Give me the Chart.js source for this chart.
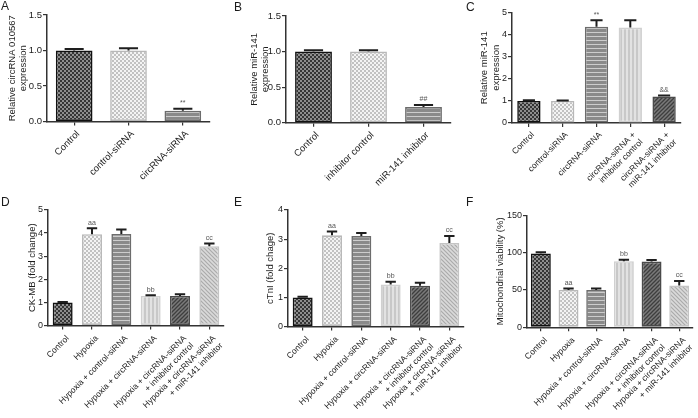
<!DOCTYPE html>
<html>
<head>
<meta charset="utf-8">
<script src="https://cdn.jsdelivr.net/npm/chart.js@4.4.1/dist/chart.umd.min.js"></script>
<style>
  html, body { margin: 0; padding: 0; background: #fff; }
  #fig { position: relative; width: 698px; height: 418px; overflow: hidden; font-family: "Liberation Sans", Arial, sans-serif; }
  #fig canvas { position: absolute; }
  .tag { position: absolute; font-size: 12px; line-height: 1; color: #1a1a1a; }
</style>
</head>
<body>
<div id="fig">
  <canvas id="chartA" width="230" height="200" style="left:0px;top:0px"></canvas>
  <canvas id="chartB" width="230" height="200" style="left:230px;top:0px"></canvas>
  <canvas id="chartC" width="238" height="200" style="left:460px;top:0px"></canvas>
  <canvas id="chartD" width="240" height="218" style="left:0px;top:200px"></canvas>
  <canvas id="chartE" width="245" height="218" style="left:230px;top:200px"></canvas>
  <canvas id="chartF" width="238" height="218" style="left:460px;top:200px"></canvas>
  <div class="tag" style="left:1px;top:0px">A</div>
  <div class="tag" style="left:234px;top:1px">B</div>
  <div class="tag" style="left:466px;top:1px">C</div>
  <div class="tag" style="left:1px;top:196px">D</div>
  <div class="tag" style="left:234px;top:196px">E</div>
  <div class="tag" style="left:466px;top:196px">F</div>
</div>
<script>
// ---- data ----
const labelsA = ['Control', 'control-siRNA', 'circRNA-siRNA'];
const valuesA = [1.0, 1.0, 0.15];
const errorsA = [0.02, 0.03, 0.03];
const marksA = ['', '', '**'];

const labelsB = ['Control', 'inhibitor control', 'miR-141 inhibitor'];
const valuesB = [1.0, 1.0, 0.22];
const errorsB = [0.02, 0.02, 0.03];
const marksB = ['', '', '##'];

const labelsC = ['Control', 'control-siRNA', 'circRNA-siRNA',
    ['circRNA-siRNA +', 'inhibitor control'], ['circRNA-siRNA +', 'miR-141 inhibitor']];
const valuesC = [1.0, 1.0, 4.35, 4.32, 1.2];
const errorsC = [0.03, 0.02, 0.3, 0.33, 0.05];
const marksC = ['', '', '**', '', '&&'];

const hypoxiaLabels = ['Control', 'Hypoxia', 'Hypoxia + control-siRNA', 'Hypoxia + circRNA-siRNA',
    ['Hypoxia + circRNA-siRNA', '+ inhibitor control'], ['Hypoxia + circRNA-siRNA', '+ miR-141 inhibitor']];

const valuesD = [1.0, 3.95, 3.96, 1.28, 1.28, 3.43];
const errorsD = [0.02, 0.26, 0.2, 0.03, 0.07, 0.12];
const marksD = ['', 'aa', '', 'bb', '', 'cc'];

const valuesE = [1.0, 3.13, 3.11, 1.44, 1.4, 2.87];
const errorsE = [0.02, 0.13, 0.1, 0.1, 0.1, 0.24];
const marksE = ['', 'aa', '', 'bb', '', 'cc'];

const valuesF = [99, 50, 50, 88.5, 88, 56];
const errorsF = [1.5, 2, 2, 2, 2, 6];
const marksF = ['', 'aa', '', 'bb', '', 'cc'];

// ---- styles ----
const FONT = '"Liberation Sans", Arial, sans-serif';
const TEXT = '#1c1c1c';
const AXIS = '#333';

function tile(draw) {
    const c = document.createElement('canvas');
    c.width = 4; c.height = 4;
    const g = c.getContext('2d');
    draw(g);
    return g.createPattern(c, 'repeat');
}

const patterns = {
    check: tile(g => {
        g.fillStyle = '#8e8e8e'; g.fillRect(0, 0, 4, 4);
        g.fillStyle = '#353535'; g.fillRect(0, 0, 2, 2); g.fillRect(2, 2, 2, 2);
    }),
    lightcheck: tile(g => {
        g.fillStyle = '#f4f4f4'; g.fillRect(0, 0, 4, 4);
        g.fillStyle = '#c2c2c2'; g.fillRect(0, 0, 2, 2); g.fillRect(2, 2, 2, 2);
    }),
    hstripe: tile(g => {
        g.fillStyle = '#8a8a8a'; g.fillRect(0, 0, 4, 4);
        g.fillStyle = '#cdcdcd'; g.fillRect(0, 0, 4, 1);
    }),
    vstripe: tile(g => {
        g.fillStyle = '#e2e2e2'; g.fillRect(0, 0, 4, 4);
        g.fillStyle = '#c8c8c8'; g.fillRect(0, 0, 2, 4);
    }),
    diagDark: tile(g => {
        g.fillStyle = '#7a7a7a'; g.fillRect(0, 0, 4, 4);
        g.strokeStyle = '#3e3e3e'; g.lineWidth = 1.3;
        g.beginPath();
        g.moveTo(0, 4); g.lineTo(4, 0);
        g.moveTo(-1, 1); g.lineTo(1, -1);
        g.moveTo(3, 5); g.lineTo(5, 3);
        g.stroke();
    }),
    diagLight: tile(g => {
        g.fillStyle = '#dadada'; g.fillRect(0, 0, 4, 4);
        g.strokeStyle = '#ababab'; g.lineWidth = 1.2;
        g.beginPath();
        g.moveTo(0, 0); g.lineTo(4, 4);
        g.moveTo(-1, 3); g.lineTo(1, 5);
        g.moveTo(3, -1); g.lineTo(5, 1);
        g.stroke();
    })
};

const borders = {
    check: '#111',
    lightcheck: '#b8b8b8',
    hstripe: '#6c6c6c',
    vstripe: '#d0d0d0',
    diagDark: '#4a4a4a',
    diagLight: '#c4c4c4'
};

const fills3 = ['check', 'lightcheck', 'hstripe'];
const fills5 = ['check', 'lightcheck', 'hstripe', 'vstripe', 'diagDark'];
const fills6 = ['check', 'lightcheck', 'hstripe', 'vstripe', 'diagDark', 'diagLight'];

// error bars (upper only) and significance marks
const errorBars = {
    id: 'errorBars',
    afterDatasetsDraw(chart) {
        const ctx = chart.ctx;
        const ds = chart.data.datasets[0];
        const y = chart.scales.y;
        ctx.save();
        chart.getDatasetMeta(0).data.forEach((bar, i) => {
            const top = y.getPixelForValue(ds.data[i] + ds.errors[i]);
            const half = bar.width * 0.26;
            ctx.strokeStyle = '#1e1e1e';
            ctx.lineWidth = 2;
            ctx.beginPath();
            ctx.moveTo(bar.x, bar.y);
            ctx.lineTo(bar.x, top);
            ctx.moveTo(bar.x - half, top);
            ctx.lineTo(bar.x + half, top);
            ctx.stroke();
            if (ds.marks[i]) {
                ctx.fillStyle = '#555';
                ctx.font = '7px ' + FONT;
                ctx.textAlign = 'center';
                ctx.textBaseline = 'bottom';
                ctx.fillText(ds.marks[i], bar.x, top - 2);
            }
        });
        ctx.restore();
    }
};

function drawPanel(id, cfg) {
    return new Chart(document.getElementById(id), {
        type: 'bar',
        data: {
            labels: cfg.labels,
            datasets: [{
                data: cfg.values,
                errors: cfg.errors,
                marks: cfg.marks,
                backgroundColor: cfg.fills.map(f => patterns[f]),
                borderColor: cfg.fills.map(f => borders[f]),
                borderWidth: 1.6,
                borderSkipped: false,
                categoryPercentage: 1,
                barPercentage: cfg.barPct
            }]
        },
        options: {
            responsive: false,
            animation: false,
            events: [],
            layout: { padding: { top: cfg.padTop, right: cfg.padRight, left: 0, bottom: 0 } },
            plugins: { legend: { display: false }, tooltip: { enabled: false } },
            scales: {
                x: {
                    grid: { drawOnChartArea: false, offset: false, color: AXIS, lineWidth: 1.2, tickLength: 4 },
                    border: { color: AXIS, width: 1.5 },
                    ticks: {
                        autoSkip: false, minRotation: 45, maxRotation: 45,
                        padding: cfg.xPad, labelOffset: cfg.xShift,
                        color: TEXT, font: { family: FONT, size: cfg.xFont }
                    },
                    afterFit: s => { s.height = cfg.xHeight; }
                },
                y: {
                    min: 0,
                    max: cfg.yMax,
                    ticks: {
                        stepSize: cfg.yStep, padding: 1, color: TEXT,
                        font: { family: FONT, size: cfg.yFont },
                        callback: v => v.toFixed(cfg.decimals)
                    },
                    grid: { drawOnChartArea: false, color: AXIS, lineWidth: 1.2, tickLength: 4 },
                    border: { color: AXIS, width: 1.5 },
                    title: {
                        display: true, text: cfg.yTitle, color: TEXT,
                        padding: { top: cfg.titlePad, bottom: 0 },
                        font: { family: FONT, size: 9.5 }
                    },
                    afterFit: s => { s.width = cfg.yWidth; }
                }
            }
        },
        plugins: [errorBars]
    });
}

drawPanel('chartA', {
    labels: labelsA, values: valuesA, errors: errorsA, marks: marksA, fills: fills3,
    yMax: 1.5, yStep: 0.5, decimals: 1, yTitle: ['Relative circRNA 010567', 'expression'],
    yWidth: 47, xHeight: 78.5, padTop: 15, padRight: 20, titlePad: 6.3,
    barPct: 0.675, xFont: 9.5, yFont: 9.5, xPad: 3, xShift: 4
});

drawPanel('chartB', {
    labels: labelsB, values: valuesB, errors: errorsB, marks: marksB, fills: fills3,
    yMax: 1.5, yStep: 0.5, decimals: 1, yTitle: ['Relative miR-141', 'expression'],
    yWidth: 56, xHeight: 77.3, padTop: 16, padRight: 9, titlePad: 18.3,
    barPct: 0.67, xFont: 9.5, yFont: 9.5, xPad: 3, xShift: 4
});

drawPanel('chartC', {
    labels: labelsC, values: valuesC, errors: errorsC, marks: marksC, fills: fills5,
    yMax: 5, yStep: 1, decimals: 0, yTitle: ['Relative miR-141', 'expression'],
    yWidth: 52, xHeight: 77, padTop: 12.5, padRight: 17, titlePad: 18.8,
    barPct: 0.69, xFont: 8.5, yFont: 9, xPad: 3, xShift: 4
});

drawPanel('chartD', {
    labels: hypoxiaLabels, values: valuesD, errors: errorsD, marks: marksD, fills: fills6,
    yMax: 5, yStep: 1, decimals: 0, yTitle: 'CK-MB (fold change)',
    yWidth: 48, xHeight: 92.5, padTop: 10, padRight: 16, titlePad: 27,
    barPct: 0.68, xFont: 8.5, yFont: 9, xPad: 4, xShift: 5
});

drawPanel('chartE', {
    labels: hypoxiaLabels, values: valuesE, errors: errorsE, marks: marksE, fills: fills6,
    yMax: 4, yStep: 1, decimals: 0, yTitle: 'cTnI (fold chage)',
    yWidth: 58, xHeight: 91.5, padTop: 10, padRight: 11, titlePad: 35,
    barPct: 0.68, xFont: 8.5, yFont: 9, xPad: 4, xShift: 5
});

drawPanel('chartF', {
    labels: hypoxiaLabels, values: valuesF, errors: errorsF, marks: marksF, fills: fills6,
    yMax: 150, yStep: 50, decimals: 0, yTitle: 'Mitochondrial viability (%)',
    yWidth: 67, xHeight: 90.7, padTop: 15.3, padRight: 4, titlePad: 35,
    barPct: 0.72, xFont: 8.5, yFont: 9, xPad: 4, xShift: 5
});
</script>
</body>
</html>
